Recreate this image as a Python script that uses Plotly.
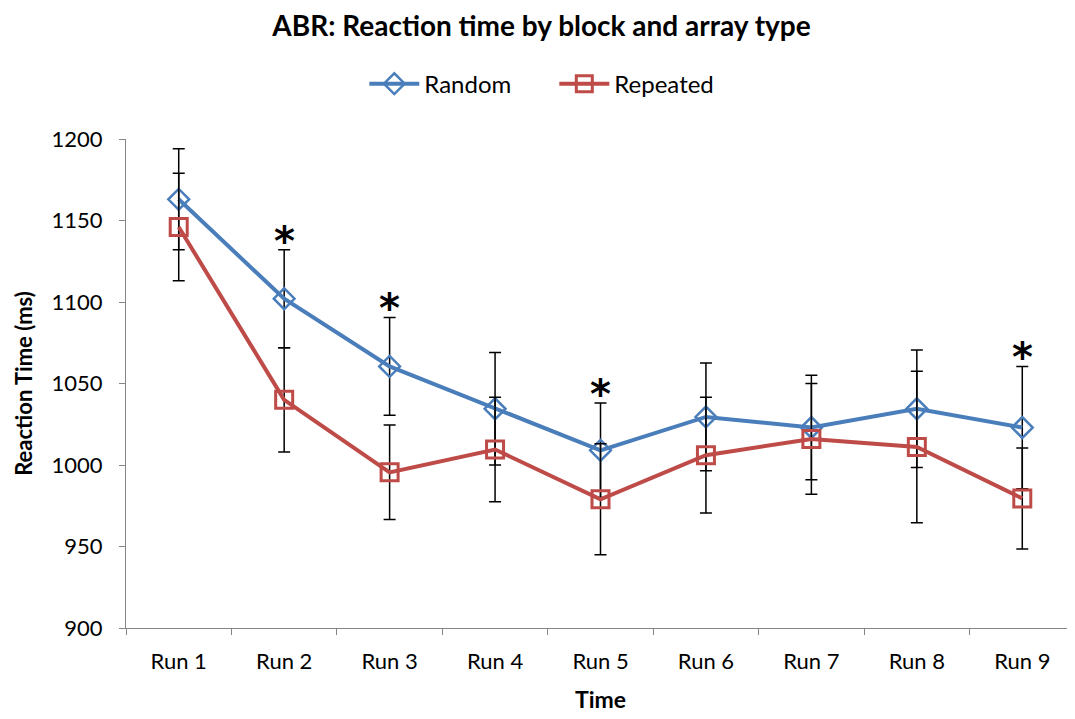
import plotly.graph_objects as go

runs = ["Run 1", "Run 2", "Run 3", "Run 4", "Run 5", "Run 6", "Run 7", "Run 8", "Run 9"]
random_rt = [1163, 1102, 1060.5, 1034.5, 1009, 1029.5, 1023, 1034.5, 1023]
random_err = [31, 30, 30, 34.5, 29, 33, 32, 36, 37.5]
repeated_rt = [1146, 1040, 995.5, 1009.5, 979, 1006, 1016, 1011, 979.5]
repeated_err = [33, 32, 29, 32, 34, 35.5, 34, 46.5, 31]
significant = [False, True, True, False, True, False, False, False, True]

FONT = "Lato"
BLUE = "#4A7EBB"
RED = "#BE4B48"

fig = go.Figure()
fig.add_trace(go.Scatter(
    x=runs, y=random_rt, name="Random", mode="lines+markers",
    line=dict(color=BLUE, width=4),
    marker=dict(symbol="diamond-open", size=16, color=BLUE, line=dict(width=2.5, color=BLUE)),
    error_y=dict(type="data", array=random_err, visible=True, color="black", thickness=1.5, width=6),
))
fig.add_trace(go.Scatter(
    x=runs, y=repeated_rt, name="Repeated", mode="lines+markers",
    line=dict(color=RED, width=4),
    marker=dict(symbol="square-open", size=17, color=RED, line=dict(width=3, color=RED)),
    error_y=dict(type="data", array=repeated_err, visible=True, color="black", thickness=1.5, width=6),
))

for r, v, e, s in zip(runs, random_rt, random_err, significant):
    if s:
        fig.add_annotation(x=r, y=v + e, text="<b>*</b>", showarrow=False, yanchor="bottom",
                           yshift=-16, font=dict(family="DejaVu Sans", size=40, color="black"))

fig.update_layout(
    width=1067, height=711,
    margin=dict(l=118, r=0, t=131, b=91),
    paper_bgcolor="white", plot_bgcolor="white",
    font=dict(family=FONT, color="black"),
    title=dict(text="<b>ABR: Reaction time by block and array type</b>",
               x=0.5, xref="container", xanchor="center", y=0.9747, yanchor="middle",
               font=dict(size=28, family=FONT, color="black")),
    showlegend=True,
    legend=dict(orientation="h", x=0.512, xref="container", xanchor="center",
                y=0.893, yref="container", yanchor="middle",
                font=dict(size=24, family=FONT), itemwidth=50, entrywidth=125,
                tracegroupgap=0),
    xaxis=dict(
        type="category", range=[-0.5, 8.5], showgrid=False,
        showline=True, linecolor="#868686", linewidth=1,
        ticks="outside", tickson="boundaries", ticklen=6, tickcolor="#868686",
        ticklabelstandoff=14,
        tickfont=dict(size=22, family=FONT),
        title=dict(text="<b>Time</b>", font=dict(size=23, family=FONT), standoff=18),
    ),
    yaxis=dict(
        range=[900, 1200], dtick=50, showgrid=False, zeroline=False,
        showline=True, linecolor="#868686", linewidth=1,
        ticks="outside", ticklen=6, tickcolor="#868686",
        ticklabelstandoff=12,
        tickfont=dict(size=22, family=FONT),
        title=dict(text="<b>Reaction Time (ms)</b>", font=dict(size=22, family=FONT), standoff=12),
    ),
)

fig.write_html("out.html")
